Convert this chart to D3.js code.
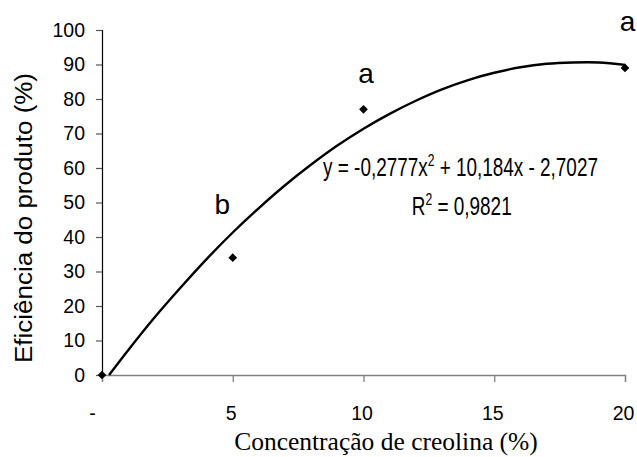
<!DOCTYPE html>
<html>
<head>
<meta charset="utf-8">
<script src="https://cdn.jsdelivr.net/npm/d3@7"></script>
<style>
  body { margin: 0; background: #fff; }
  svg { display: block; }
</style>
</head>
<body>
<div class="container"></div>
<script>
//=================================================
// Data
//=================================================
var concX = [0, 5, 10, 20];
var eficY = [0, 34, 77, 89];
var letters = ["", "b", "a", "a"];
// where each letter sits, in chart units
var letterX = [0, 4.6, 10.1, 20.1];
var letterY = [0, 46.8, 84.6, 99.8];

// polynomial trend line
var trendX = [0.27, 1, 2, 3, 4, 5, 6, 7, 8, 9, 10, 11, 12, 13, 14, 15, 16, 17, 18, 19, 20];
var trendY = [0, 7.2, 16.6, 25.3, 33.6, 41.3, 48.4, 55.0, 61.0, 66.5, 71.4, 75.7, 79.5, 82.8, 85.5, 87.6, 89.2, 90.2, 90.6, 90.6, 89.9];

var xTicks = [0, 5, 10, 15, 20];
var yTicks = [0, 10, 20, 30, 40, 50, 60, 70, 80, 90, 100];

var eqText = "y = -0,2777x";
var eqSup = "2";
var eqRest = " + 10,184x - 2,7027";
var r2Text = "R";
var r2Rest = " = 0,9821";

var xTitle = "Concentração de creolina (%)";
var yTitle = "Eficiência do produto (%)";

//=================================================
// Dimensions
//=================================================
var width = 637,
  height = 457,
  plotLeft = 102,
  plotRight = 625,
  plotTop = 30,
  plotBottom = 375;

var sans = "Liberation Sans, Arial, sans-serif";
var serif = "Liberation Serif, Times New Roman, serif";

var xScale = d3.scaleLinear().domain([0, 20]).range([plotLeft, plotRight]);
var yScale = d3.scaleLinear().domain([0, 100]).range([plotBottom, plotTop]);

var svg = d3.select(".container").
append("svg").
attr("width", width).
attr("height", height);

//=================================================
// Axes
//=================================================
var xAxis = d3.axisBottom(xScale).
tickValues(xTicks).
tickSize(7).
tickPadding(24).
tickFormat(d => d === 0 ? "-" : d);

var gx = svg.append("g").
attr("transform", "translate(0," + plotBottom + ")").
call(xAxis);

gx.select(".domain").attr("stroke", "#808080").attr("stroke-width", 1.3);
gx.selectAll(".tick line").attr("stroke", "#808080").attr("stroke-width", 1.3);
gx.selectAll(".tick text").
attr("font-family", sans).
attr("font-size", 19.5).
attr("fill", "#000").
attr("dx", d => d === 0 ? -10 : -2);

var yAxis = d3.axisLeft(yScale).
tickValues(yTicks).
tickSize(6).
tickPadding(11);

var gy = svg.append("g").
attr("transform", "translate(" + plotLeft + ",0)").
call(yAxis);

gy.select(".domain").attr("stroke", "#000").attr("stroke-width", 1.2);
gy.selectAll(".tick line").attr("stroke", "#555").attr("stroke-width", 1.2);
gy.selectAll(".tick text").
attr("font-family", sans).
attr("font-size", 19.5).
attr("fill", "#000");

//=================================================
// Axis titles
//=================================================
svg.append("text").
attr("x", 386).
attr("y", 450).
attr("text-anchor", "middle").
attr("font-family", serif).
attr("font-size", 25.5).
text(xTitle);

svg.append("text").
attr("transform", "translate(32,218) rotate(-90)").
attr("text-anchor", "middle").
attr("font-family", sans).
attr("font-size", 23).
attr("textLength", 290).
attr("lengthAdjust", "spacingAndGlyphs").
text(yTitle);

//=================================================
// Trend line
//=================================================
var trend = trendX.map((x, i) => [x, trendY[i]]);

var line = d3.line().
x(d => xScale(d[0])).
y(d => yScale(d[1])).
curve(d3.curveCatmullRom);

svg.append("path").
datum(trend).
attr("d", line).
attr("fill", "none").
attr("stroke", "#000").
attr("stroke-width", 2.4).
attr("stroke-linejoin", "round");

//=================================================
// Points
//=================================================
var pts = concX.map((x, i) => ({ x: x, y: eficY[i], l: letters[i], lx: letterX[i], ly: letterY[i] }));

svg.selectAll(".pt").
data(pts).
enter().
append("path").
attr("class", "pt").
attr("d", d3.symbol(d3.symbolSquare, 38)).
attr("transform", d => "translate(" + xScale(d.x) + "," + yScale(d.y) + ") rotate(45)").
attr("fill", "#000");

svg.selectAll(".lbl").
data(pts.filter(d => d.l !== "")).
enter().
append("text").
attr("class", "lbl").
attr("x", d => xScale(d.lx)).
attr("y", d => yScale(d.ly)).
attr("text-anchor", "middle").
attr("font-family", sans).
attr("font-size", 28).
text(d => d.l);

//=================================================
// Equation and R2 (narrow text)
//=================================================
function narrowText(cx, cy, a, sup, b, target) {
  var t = svg.append("text").
  attr("text-anchor", "middle").
  attr("font-family", sans).
  attr("font-size", 25);
  t.append("tspan").text(a);
  t.append("tspan").attr("font-size", 16).attr("dy", -10).text(sup);
  t.append("tspan").attr("dy", 10).text(b);
  var len = t.node().getComputedTextLength();
  t.attr("transform", "translate(" + cx + "," + cy + ") scale(" + (target / len) + ",1)");
}

narrowText(460.5, 176, eqText, eqSup, eqRest, 275);
narrowText(461.7, 215, r2Text, eqSup, r2Rest, 100);
</script>
</body>
</html>
